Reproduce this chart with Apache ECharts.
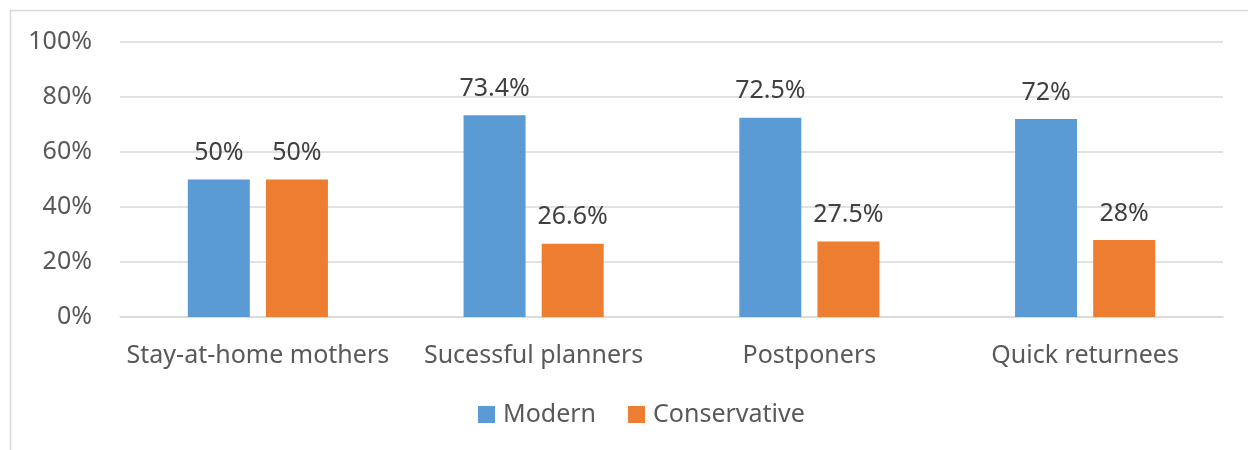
<!DOCTYPE html>
<html><head><meta charset="utf-8">
<script src="https://cdn.jsdelivr.net/npm/echarts@6/dist/echarts.min.js"></script>
<style>html,body{margin:0;padding:0;background:#fff}#c{width:1248px;height:450px}</style>
</head><body><div id="c"></div>
<script>
const categories = ["Stay-at-home mothers", "Sucessful planners", "Postponers", "Quick returnees"];
const modern = [50, 73.4, 72.5, 72];
const conservative = [50, 26.6, 27.5, 28];
const modernLabels = ["50%", "73.4%", "72.5%", "72%"];
const conservativeLabels = ["50%", "26.6%", "27.5%", "28%"];
const yTicks = [0, 20, 40, 60, 80, 100];

const FONT = "Noto Sans";
const FS = 25;
const chart = echarts.init(document.getElementById('c'));
chart.setOption({
  animation: false,
  textStyle: { fontFamily: FONT },
  graphic: [{ type: 'rect', shape: { x: 10.5, y: 10.5, width: 1300, height: 500 }, style: { fill: 'none', stroke: '#d9d9d9', lineWidth: 1.5 }, silent: true }],
  grid: { left: 120, right: 25, top: 42, bottom: 133 },
  legend: {
    bottom: 18, left: 473, itemWidth: 17, itemHeight: 17, itemGap: 32, icon: 'rect',
    textStyle: { fontSize: FS, color: '#595959', fontFamily: FONT, padding: [0, 0, 0, 3] },
    data: ['Modern', 'Conservative']
  },
  xAxis: {
    type: 'category', data: categories,
    axisLine: { lineStyle: { color: '#d9d9d9', width: 1.5 } },
    axisTick: { show: false },
    axisLabel: { interval: 0, fontSize: FS, color: '#595959', margin: 26, fontFamily: FONT }
  },
  yAxis: {
    type: 'value', min: 0, max: 100, interval: 20,
    axisLine: { show: false }, axisTick: { show: false },
    splitLine: { lineStyle: { color: '#d9d9d9', width: 1.5 } },
    axisLabel: { fontSize: FS, color: '#595959', margin: 28, fontFamily: FONT,
      formatter: v => yTicks.includes(v) ? v + '%' : '' }
  },
  series: [
    { name: 'Modern', type: 'bar', data: modern, barWidth: 62, barGap: '26%',
      itemStyle: { color: '#5B9BD5' },
      label: { show: true, position: 'top', distance: 14, fontSize: FS, color: '#404040', fontFamily: FONT,
        formatter: p => modernLabels[p.dataIndex] } },
    { name: 'Conservative', type: 'bar', data: conservative, barWidth: 62,
      itemStyle: { color: '#ED7D31' },
      label: { show: true, position: 'top', distance: 14, fontSize: FS, color: '#404040', fontFamily: FONT,
        formatter: p => conservativeLabels[p.dataIndex] } }
  ]
});
</script></body></html>
